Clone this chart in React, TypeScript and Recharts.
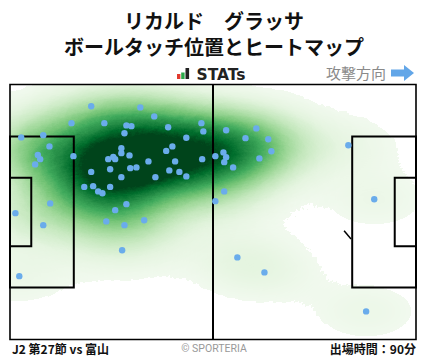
import React from 'react';
import { ScatterChart, Scatter, XAxis, YAxis, ReferenceArea, ReferenceLine } from 'recharts';

// ---------- data (pitch metres: x 0-105 attacking right, y 0-68 from top) ----------
const PITCH_LENGTH = 105;
const PITCH_WIDTH = 68;

const touchX = [
  21.0, 15.9, 24.4, 2.9, 8.6, 10.2, 7.2, 7.8, 6.5, 16.4, 25.4, 26.7, 27.2, 25.9, 21.0,
  33.7, 37.3, 30.1, 31.4, 29.6, 40.9, 49.5, 50.0, 45.6, 42.0, 40.4, 28.8, 28.8, 30.9,
  35.8, 42.7, 49.7, 31.1, 32.7, 41.2, 43.8, 55.9, 63.7, 60.9, 66.8, 67.6, 53.1, 55.2,
  55.9, 55.4, 57.7, 64.5, 1.4, 10.4, 8.6, 19.2, 21.5, 22.8, 23.9, 25.9, 27.2, 24.9,
  28.8, 37.6, 45.6, 30.1, 29.6, 34.7, 29.0, 53.1, 55.4, 58.8, 65.8, 92.1, 94.2, 87.5, 2.4,
];
const touchY = [
  5.8, 10.3, 10.3, 14.1, 13.5, 16.5, 18.8, 19.9, 21.3, 19.1, 19.9, 19.3, 19.9, 22.6, 23.3,
  6.1, 8.5, 10.9, 11.1, 13.0, 11.4, 10.3, 12.5, 14.2, 16.5, 17.7, 17.0, 18.3, 18.9,
  20.5, 20.5, 19.9, 22.3, 22.1, 22.9, 23.3, 12.2, 11.7, 14.3, 14.6, 17.8, 19.1, 18.1,
  19.4, 20.7, 22.1, 19.7, 34.3, 31.7, 37.5, 27.3, 27.1, 28.5, 29.0, 27.3, 33.5, 36.5,
  24.7, 24.7, 24.5, 31.9, 37.5, 36.2, 44.2, 31.1, 28.5, 46.1, 50.1, 60.5, 30.6, 16.2, 51.1,
];
const touches = touchX.map((x, i) => ({ x, y: touchY[i] }));

// pitch markings (metres)
const penaltyDepth = 16.5;
const penaltyTop = 13.84;
const penaltyBottom = 54.16;
const goalAreaDepth = 5.5;
const goalAreaTop = 24.84;
const goalAreaBottom = 43.16;
const arcPiece = [{ x: 86.4, y: 39.0 }, { x: 88.2, y: 41.2 }];

// ---------- heat styling ----------
const SIGMA_X = 40; // px
const SIGMA_Y = 22; // px
const P = 0.1;
const DMAX = 15;
const THRESH = 0.55;

const greens: [number, number, number][] = [
  [247, 252, 245], [229, 245, 224], [199, 233, 192], [161, 217, 155], [116, 196, 118],
  [65, 171, 93], [35, 139, 69], [0, 109, 44], [0, 68, 27],
];
function greenAt(l: number): [number, number, number] {
  const t = Math.max(0, Math.min(1, l)) * (greens.length - 1);
  const i = Math.min(greens.length - 2, Math.floor(t));
  const f = t - i;
  const a = greens[i], b = greens[i + 1];
  return [a[0] + (b[0] - a[0]) * f, a[1] + (b[1] - a[1]) * f, a[2] + (b[2] - a[2]) * f];
}
const N = 256;
const rT: string[] = [], gT: string[] = [], bT: string[] = [], aT: string[] = [];
for (let k = 0; k < N; k++) {
  const A = k / (N - 1);
  const D = A >= 1 ? 1e9 : -Math.log(1 - A) / P;
  const c = greenAt(D / DMAX);
  rT.push((c[0] / 255).toFixed(4));
  gT.push((c[1] / 255).toFixed(4));
  bT.push((c[2] / 255).toFixed(4));
  aT.push(D >= THRESH ? '1' : '0');
}
const kernelStops = Array.from({ length: 21 }, (_, i) => {
  const t = i / 20;
  const v = i === 20 ? 0 : P * Math.exp(-((3 * t) ** 2) / 2);
  return { offset: `${t * 100}%`, opacity: v };
});

const KernelShape = (props: any) => (
  <ellipse cx={props.cx} cy={props.cy} rx={SIGMA_X * 3} ry={SIGMA_Y * 3} fill="url(#kdeKernel)" />
);
const DotShape = (props: any) => <circle cx={props.cx} cy={props.cy} r={3.2} fill="#6aaceb" />;

const LINE = '#000';

export default function App() {
  return (
    <div style={{ position: 'absolute', left: 0, top: 0, width: 428, height: 359, background: '#fff', overflow: 'hidden' }}>
      <style>{`.heat-layer { filter: url(#kdeHeat); }`}</style>
      <svg width="0" height="0" style={{ position: 'absolute' }}>
        <defs>
          <radialGradient id="kdeKernel">
            {kernelStops.map((s, i) => (
              <stop key={i} offset={s.offset} stopColor="#000" stopOpacity={s.opacity} />
            ))}
          </radialGradient>
          <filter id="kdeHeat" x="-30%" y="-30%" width="160%" height="160%" colorInterpolationFilters="sRGB">
            <feColorMatrix in="SourceGraphic" type="matrix" values="0 0 0 1 0  0 0 0 1 0  0 0 0 1 0  0 0 0 1 0" />
            <feComponentTransfer>
              <feFuncR type="table" tableValues={rT.join(' ')} />
              <feFuncG type="table" tableValues={gT.join(' ')} />
              <feFuncB type="table" tableValues={bT.join(' ')} />
              <feFuncA type="table" tableValues={aT.join(' ')} />
            </feComponentTransfer>
          </filter>
        </defs>
      </svg>

      <div style={{ position: 'absolute', left: 0, top: 0 }}>
        <ScatterChart width={428} height={359} margin={{ top: 84.5, right: 12, bottom: 19.5, left: 10 }}>
          <XAxis type="number" dataKey="x" domain={[0, PITCH_LENGTH]} hide allowDataOverflow />
          <YAxis type="number" dataKey="y" domain={[0, PITCH_WIDTH]} reversed hide allowDataOverflow />
          <Scatter data={touches} className="heat-layer" shape={KernelShape} isAnimationActive={false} zIndex={-10} />
          <ReferenceArea x1={0} x2={PITCH_LENGTH} y1={0} y2={PITCH_WIDTH} fill="none" fillOpacity={0} stroke={LINE} strokeWidth={1.6} zIndex={700} />
          <ReferenceLine x={PITCH_LENGTH / 2} stroke={LINE} strokeWidth={2} zIndex={700} />
          <ReferenceArea x1={0} x2={penaltyDepth} y1={penaltyTop} y2={penaltyBottom} fill="none" fillOpacity={0} stroke={LINE} strokeWidth={2} zIndex={700} />
          <ReferenceArea x1={0} x2={goalAreaDepth} y1={goalAreaTop} y2={goalAreaBottom} fill="none" fillOpacity={0} stroke={LINE} strokeWidth={2} zIndex={700} />
          <ReferenceArea x1={PITCH_LENGTH - penaltyDepth} x2={PITCH_LENGTH} y1={penaltyTop} y2={penaltyBottom} fill="none" fillOpacity={0} stroke={LINE} strokeWidth={2} zIndex={700} />
          <ReferenceArea x1={PITCH_LENGTH - goalAreaDepth} x2={PITCH_LENGTH} y1={goalAreaTop} y2={goalAreaBottom} fill="none" fillOpacity={0} stroke={LINE} strokeWidth={2} zIndex={700} />
          <ReferenceLine segment={arcPiece} stroke={LINE} strokeWidth={1.5} zIndex={700} />
          <Scatter data={touches} shape={DotShape} isAnimationActive={false} zIndex={800} />
        </ScatterChart>
      </div>

      {/* header */}
      <div style={{ position: 'absolute', left: 0, width: 428, top: 11, height: 20, lineHeight: '20px', textAlign: 'center', fontFamily: '"Noto Sans CJK JP", sans-serif', fontWeight: 700, fontSize: 20, color: '#111', whiteSpace: 'pre' }}>
        リカルド　グラッサ
      </div>
      <div style={{ position: 'absolute', left: 0, width: 428, top: 36.5, height: 20, lineHeight: '20px', textAlign: 'center', fontFamily: '"Noto Sans CJK JP", sans-serif', fontWeight: 700, fontSize: 20, color: '#111', whiteSpace: 'pre' }}>
        ボールタッチ位置とヒートマップ
      </div>
      <svg width={428} height={90} style={{ position: 'absolute', left: 0, top: 0 }}>
        <rect x={177} y={74} width={3.4} height={5} fill="#e23a2e" />
        <rect x={181.2} y={72.5} width={3.4} height={6.5} fill="#2aa84a" />
        <rect x={185.5} y={68} width={3.6} height={11} fill="#222" />
        <text x={196.5} y={79.5} fontFamily="DejaVu Sans" fontWeight={700} fontSize={15.5} fill="#222">STATs</text>
        <text x={326} y={79} fontFamily='"Noto Sans CJK JP", sans-serif' fontSize={15} fill="#8a8a8a">攻撃方向</text>
        <polygon points="391,69.5 404,69.5 404,65 414,73 404,81 404,76.5 391,76.5" fill="#62a6e8" />
      </svg>

      {/* footer */}
      <div style={{ position: 'absolute', left: 12, top: 341, lineHeight: '16px', fontFamily: '"Noto Sans CJK JP", sans-serif', fontWeight: 700, fontSize: 12, color: '#111', whiteSpace: 'pre' }}>
        J2 第27節 vs 富山
      </div>
      <div style={{ position: 'absolute', left: 0, width: 428, top: 342, lineHeight: '14px', textAlign: 'center', fontFamily: 'Roboto, sans-serif', fontSize: 10.5, color: '#999', whiteSpace: 'pre' }}>
        © SPORTERIA
      </div>
      <div style={{ position: 'absolute', right: 12, top: 341, lineHeight: '16px', fontFamily: '"Noto Sans CJK JP", sans-serif', fontWeight: 700, fontSize: 12, color: '#111', whiteSpace: 'pre' }}>
        出場時間：90分
      </div>
    </div>
  );
}
